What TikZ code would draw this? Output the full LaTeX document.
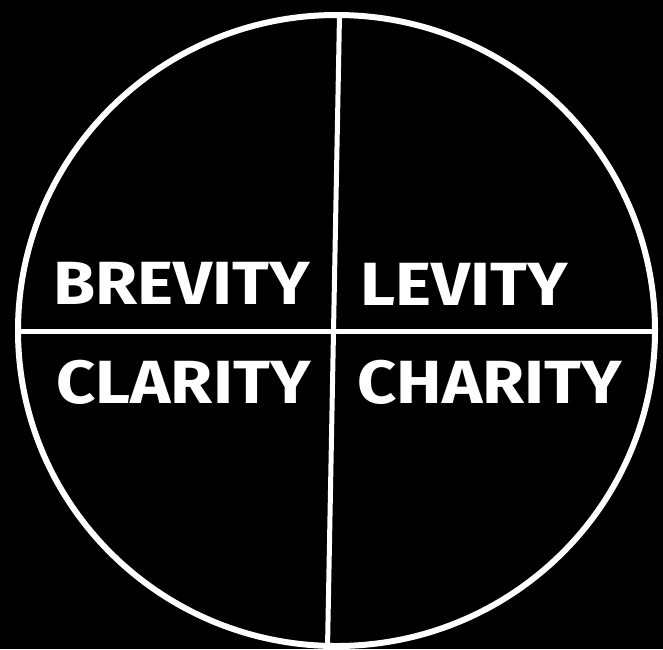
\documentclass[tikz,border=0pt]{standalone}
\usepackage{fontspec}
\setmainfont{Fira Sans}
\newfontfamily\wordfont[FakeStretch=1.12]{Fira Sans}
\begin{document}
\begin{tikzpicture}[x=1pt,y=-1pt,
  wline/.style={draw=white,line width=6pt},
  word/.style={text=white,inner sep=0pt,anchor=base,font=\wordfont\fontsize{61}{61}\selectfont\bfseries}]
\useasboundingbox (0,0) rectangle (663,649);
\fill[black] (0,0) rectangle (663,649);
\draw[wline] (336.5,330.5) ellipse [x radius=318.5, y radius=315.5];
\coordinate (top) at (339.5,15);
\coordinate (bot) at (327.5,648);
\coordinate (lft) at (18,331);
\coordinate (rgt) at (655,331);
\draw[wline,line width=5pt] (top) -- (bot);
\draw[wline,line width=5pt] (lft) -- (rgt);
\node[word] (brevity) at (182,304) {BREVITY};
\node[word] (levity) at (464.5,305) {LEVITY};
\node[word] (clarity) at (183.5,403) {CLARITY};
\node[word] (charity) at (490,403) {CHARITY};
\end{tikzpicture}
\end{document}
